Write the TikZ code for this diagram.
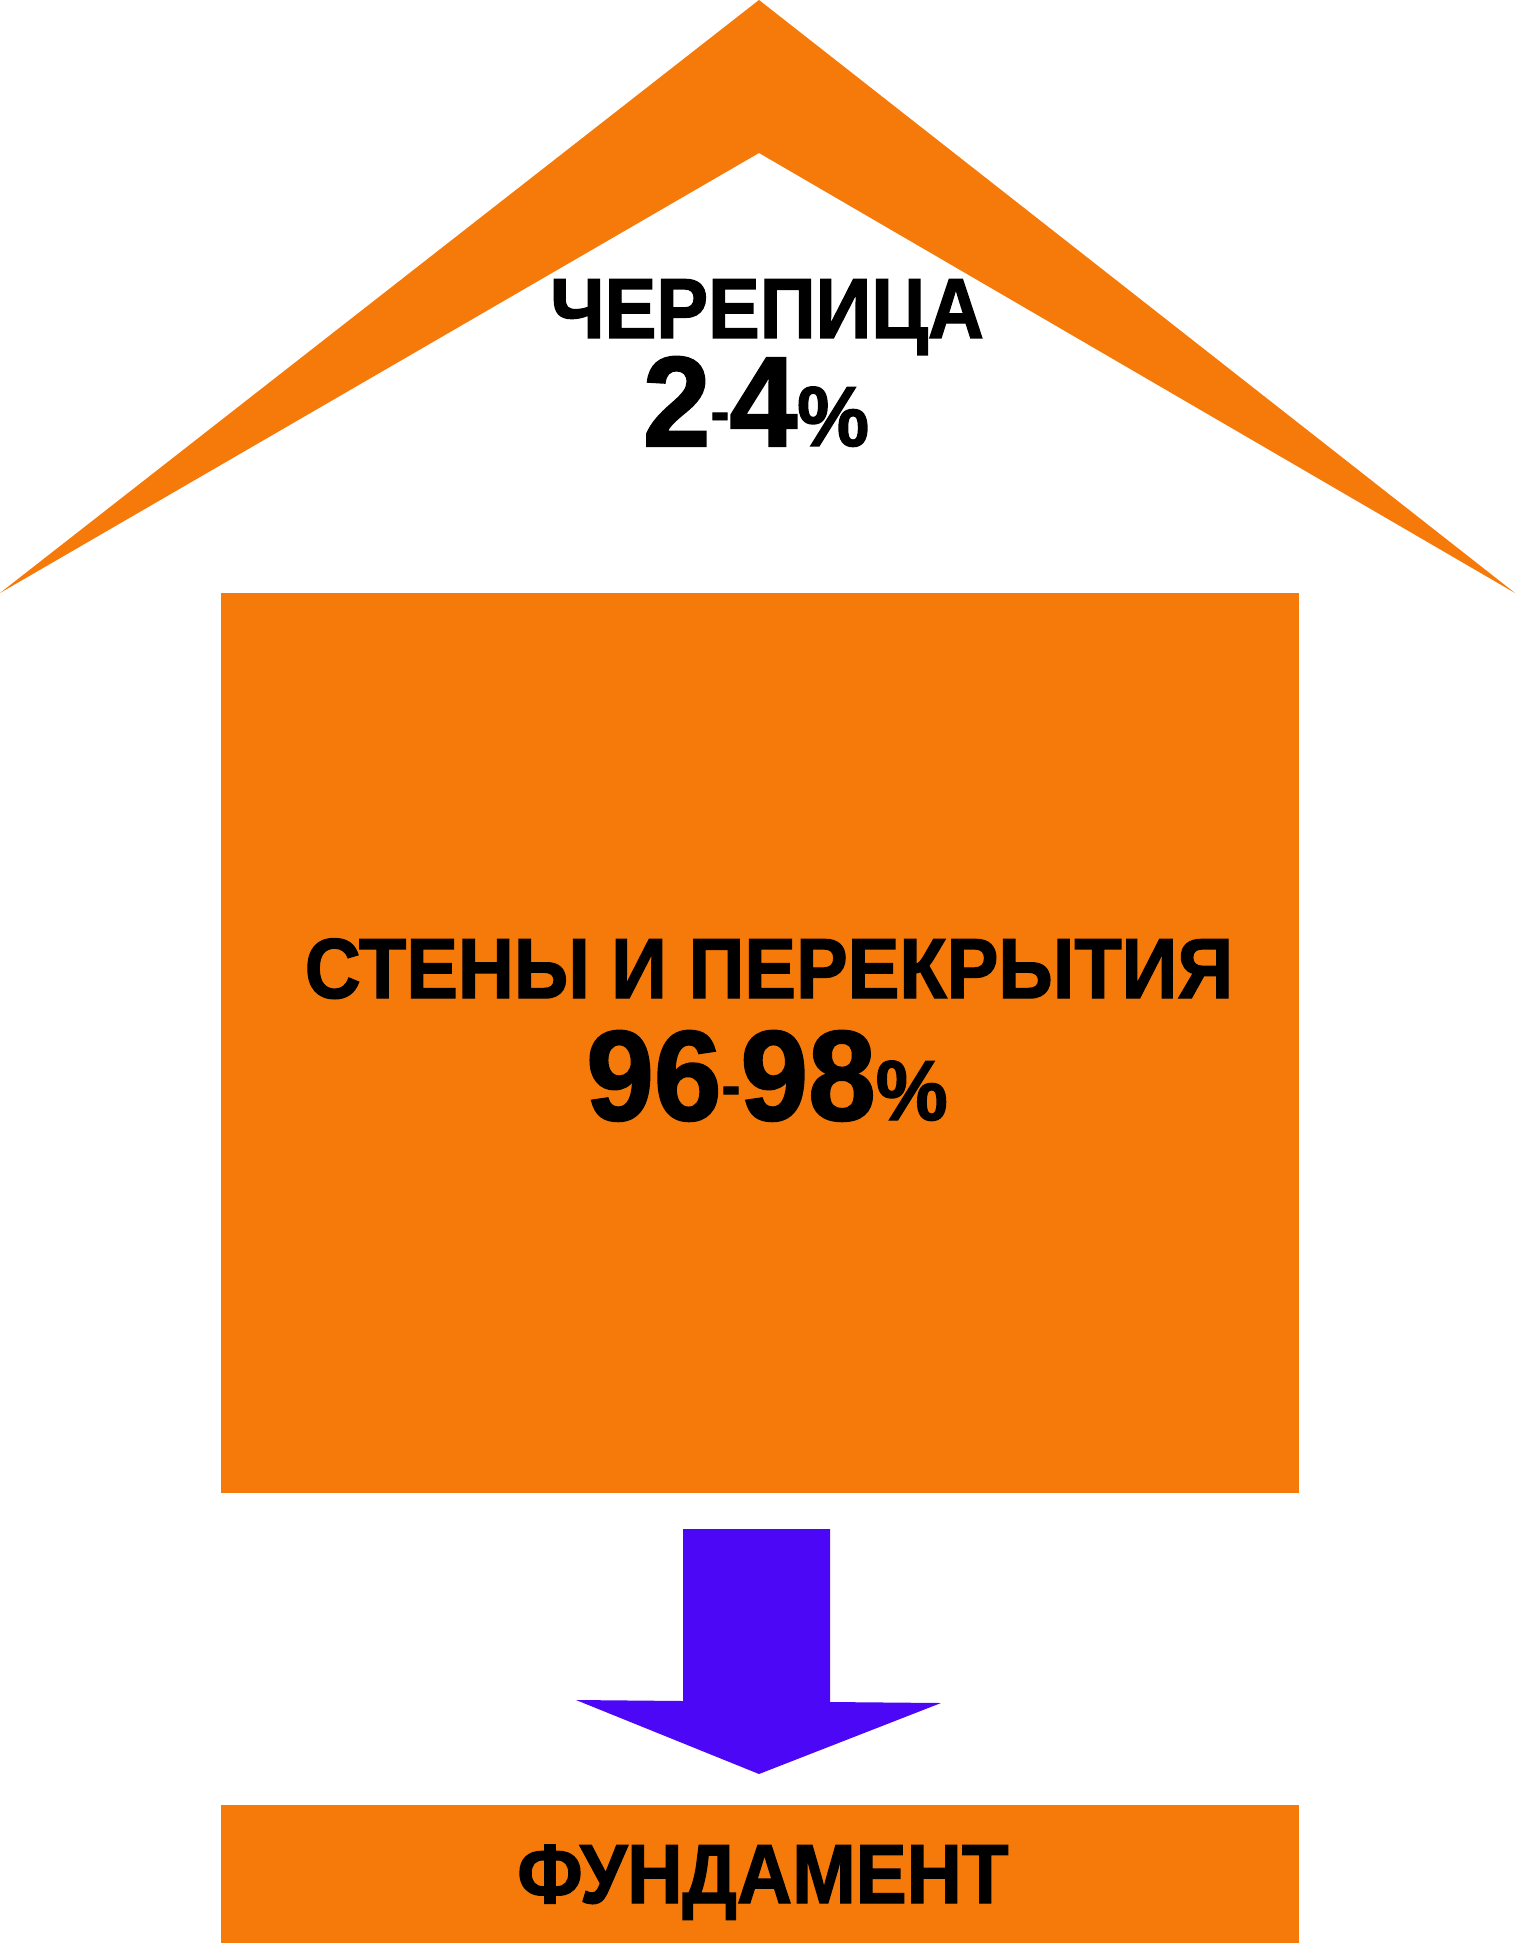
\documentclass[tikz,border=0pt]{standalone}
\usepackage{fontspec}
\newfontfamily\housefont{Liberation Sans Bold}[FakeStretch=0.91,FakeBold=1.6]
\newfontfamily\sharefont{Liberation Sans Bold}[FakeStretch=0.95,FakeBold=1.6]
\usetikzlibrary{positioning}
\definecolor{brick}{RGB}{245,122,10}
\definecolor{load}{RGB}{76,8,246}

\tikzstyle{part}=[fill=brick,draw=none]
\tikzstyle{partname}=[inner sep=0pt,anchor=base,font=\housefont\fontsize{42.6}{44}\selectfont]
\tikzstyle{share}=[inner sep=0pt,anchor=base,font=\sharefont\fontsize{64}{64}\selectfont]
\newcommand{\dash}{\raisebox{7pt}{\fontsize{30}{30}\selectfont -}}
\newcommand{\pct}{{\fontsize{42.6}{44}\selectfont\%}}

\begin{document}
\begin{tikzpicture}[x=0.5pt,y=-0.5pt]
  \useasboundingbox (0,0) rectangle (1517,1946);

  % roof
  \fill [part] (0,593) -- (759,0) -- (1515,593) -- (759,153) -- cycle;
  \node [partname] (roof) at (767,338) {ЧЕРЕПИЦА};
  \node [share] (roofshare) at (756,446) {2\dash4\pct};

  % walls
  \fill [part] (221,593) rectangle (1299,1493);
  \node [partname] (walls) at (769,998) {СТЕНЫ И ПЕРЕКРЫТИЯ};
  \node [share] (wallshare) at (767,1120) {96\dash98\pct};

  % load arrow
  \fill [load] (683,1529) -- (830,1529) -- (830,1702) -- (941,1703)
    -- (759,1774) -- (576,1700) -- (683,1701) -- cycle;

  % base
  \fill [part] (221,1805) rectangle (1299,1943);
  \node [partname,font=\housefont\fontsize{42}{44}\selectfont] (base) at (763,1903) {ФУНДАМЕНТ};
\end{tikzpicture}
\end{document}
